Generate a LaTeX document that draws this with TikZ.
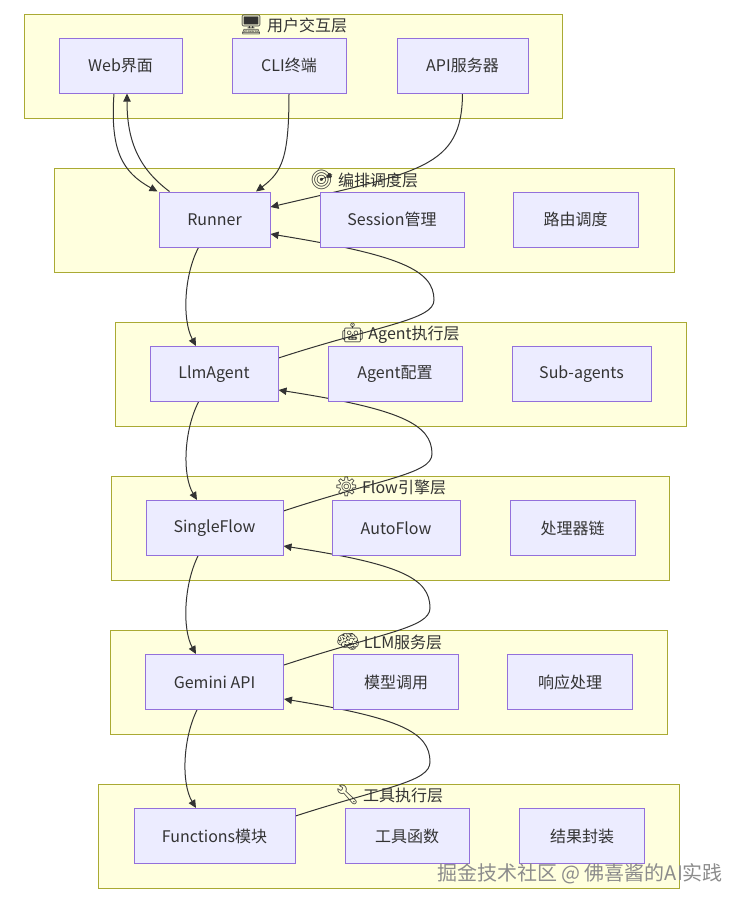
\documentclass[tikz,border=0pt]{standalone}
\usepackage{fontspec}
\setmainfont{Noto Sans CJK SC}
\newfontfamily\emojifont{Noto Emoji}
\usetikzlibrary{arrows.meta,calc}
\definecolor{clfill}{HTML}{FFFFDE}
\definecolor{cldraw}{HTML}{AAAA33}
\definecolor{ndfill}{HTML}{ECECFF}
\definecolor{nddraw}{HTML}{9370DB}
\definecolor{txt}{HTML}{333333}
\pgfdeclarelayer{clusterlayer}
\pgfdeclarelayer{edgelayer}
\pgfsetlayers{clusterlayer,edgelayer,main}
\tikzset{
  cluster/.style={draw=cldraw,fill=clfill,line width=0.75pt},
  ctitle/.style={text=txt,font=\fontsize{12pt}{14pt}\selectfont,inner sep=0pt},
  box/.style={draw=nddraw,fill=ndfill,line width=0.75pt,text=txt,
    font=\fontsize{12pt}{14pt}\selectfont,minimum height=41.25pt,inner sep=0pt},
  link/.style={draw=txt,line width=0.75pt,-{Triangle[length=6pt,width=5.5pt]}},
}
\newcommand{\emo}[1]{{\emojifont\fontsize{14.5pt}{15pt}\selectfont #1}}
\begin{document}
\begin{tikzpicture}[x=0.75pt,y=-0.75pt]
\useasboundingbox (0,0) rectangle (748,908);
% clusters
\begin{pgfonlayer}{clusterlayer}
\draw[cluster] (24,14) rectangle (562,118);
\node[ctitle] (t1) at (293,25) {\emo{🖥} 用户交互层};
\draw[cluster] (54.5,168) rectangle (674,272);
\node[ctitle] (t2) at (364,180) {\emo{🎯} 编排调度层};
\draw[cluster] (115,322) rectangle (686,426);
\node[ctitle] (t3) at (400,333) {\emo{🤖} Agent执行层};
\draw[cluster] (111,476) rectangle (669,580);
\node[ctitle] (t4) at (390,487) {\emo{⚙} Flow引擎层};
\draw[cluster] (110.5,630) rectangle (667.5,734);
\node[ctitle] (t5) at (389,642) {\emo{🧠} LLM服务层};
\draw[cluster] (98.6,784) rectangle (679,888);
\node[ctitle] (t6) at (389,795) {\emo{🔧} 工具执行层};
\end{pgfonlayer}
% nodes
\node[box,minimum width=92.25pt] (web) at (120.5,65.5) {Web界面};
\node[box,minimum width=85.5pt] (cli) at (289,65.5) {CLI终端};
\node[box,minimum width=98.25pt] (api) at (462.5,65.5) {API服务器};
\node[box,minimum width=83.25pt] (runner) at (214.5,219.5) {Runner};
\node[box,minimum width=108pt] (session) at (392,219.5) {Session管理};
\node[box,minimum width=93.75pt] (route) at (575.5,219.5) {路由调度};
\node[box,minimum width=96pt] (llm) at (214,374) {LlmAgent};
\node[box,minimum width=100.5pt] (agentcfg) at (395,374) {Agent配置};
\node[box,minimum width=104.25pt] (sub) at (581.5,374) {Sub-agents};
\node[box,minimum width=102.75pt] (single) at (214.5,528) {SingleFlow};
\node[box,minimum width=96pt] (auto) at (396,528) {AutoFlow};
\node[box,minimum width=93.75pt] (chain) at (572.5,528) {处理器链};
\node[box,minimum width=103.5pt] (gemini) at (214.5,682) {Gemini API};
\node[box,minimum width=93.75pt] (model) at (396,682) {模型调用};
\node[box,minimum width=93.75pt] (resp) at (570,682) {响应处理};
\node[box,minimum width=120.75pt] (func) at (214.5,836) {Functions模块};
\node[box,minimum width=93pt] (toolfn) at (407,836) {工具函数};
\node[box,minimum width=93.75pt] (result) at (582,836) {结果封装};
% edges
\begin{pgfonlayer}{edgelayer}
\draw[link] ($(web.south)+(-6.5,0)$) .. controls (110,150) and (122,172) .. ($(runner.north west)+(-1,0)$);
\draw[link] ($(runner.north west)+(11,0)$) .. controls (138,168) and (127,140) .. ($(web.south)+(6.5,0)$);
\draw[link] (cli.south) .. controls (289,158) and (282,172) .. ($(runner.north)+(41.5,0)$);
\draw[link] (api.south) .. controls (462,168) and (420,172) .. ($(runner.east)+(0,-12.5)$);
\draw[link] ($(runner.south)+(-16,0)$) .. controls (184,275) and (182,320) .. ($(llm.north)+(-18,0)$);
\draw[link] ($(llm.east)+(0,-16)$) .. controls (380,325) and (434,320) .. (434,300)
   .. controls (434,270) and (400,255) .. ($(runner.east)+(0,14.5)$);
\draw[link] ($(llm.south)+(-15.5,0)$) .. controls (184,430) and (182,475) .. ($(single.north)+(-17.5,0)$);
\draw[link] ($(single.east)+(0,-17)$) .. controls (380,479) and (432,474) .. (432,454)
   .. controls (432,424) and (400,409) .. ($(llm.east)+(0,16)$);
\draw[link] ($(single.south)+(-16.5,0)$) .. controls (184,584) and (182,629) .. ($(gemini.north)+(-18.5,0)$);
\draw[link] ($(gemini.east)+(0,-17)$) .. controls (381,633) and (430,628) .. (430,608)
   .. controls (430,578) and (400,564) .. ($(single.east)+(0,18)$);
\draw[link] ($(gemini.south)+(-17.5,0)$) .. controls (183,738) and (181,783) .. ($(func.north)+(-18.5,0)$);
\draw[link] ($(func.east)+(0,-20)$) .. controls (385,787) and (430,782) .. (430,762)
   .. controls (430,732) and (400,718) .. ($(gemini.east)+(0,17)$);
\end{pgfonlayer}
% watermark
\node[text=black!45,font=\fontsize{15pt}{17pt}\selectfont,inner sep=0pt] (wm) at (580,874) {掘金技术社区 @ 佛喜酱的AI实践};
\end{tikzpicture}
\end{document}
